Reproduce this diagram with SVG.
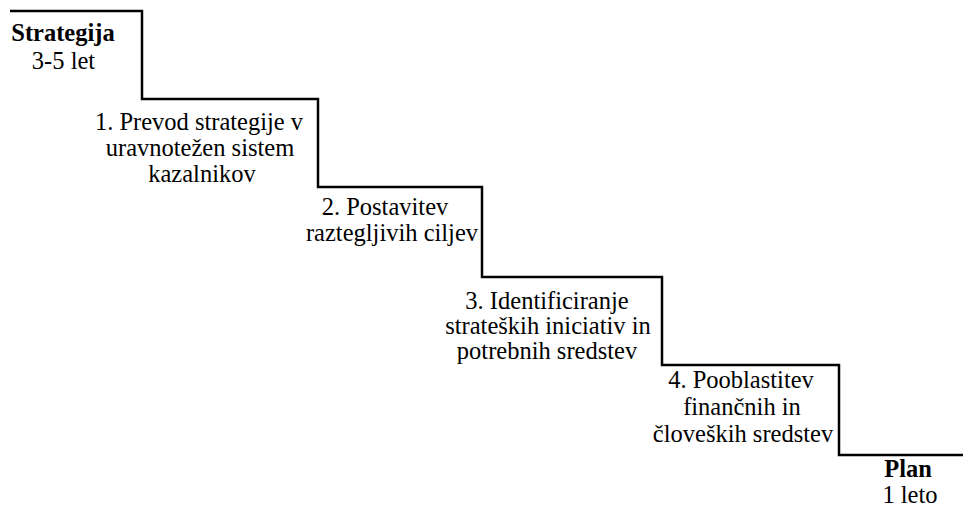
<svg xmlns="http://www.w3.org/2000/svg" width="963" height="510" viewBox="0 0 963 510">
  <style>
    .t { font-size: 24.5px; fill: #000; text-anchor: middle; }
    .b { font-weight: bold; }
    .stair { fill: none; stroke: #000; stroke-width: 2.5; stroke-linejoin: miter; }
  </style>
  <rect width="963" height="510" fill="#fff"/>
  <g id="connectors">
    <polyline class="stair" points="10,11 142,11 142,99 318,99 318,187 482,187 482,277 662,277 662,365 839,365 839,455 963,455"/>
  </g>
  <g id="strategija">
    <text class="t b" font-family="Liberation Serif" x="63" y="41">Strategija</text>
    <text class="t" font-family="Liberation Serif" x="63.5" y="69">3-5 let</text>
  </g>
  <g id="step1">
    <text class="t" font-family="Liberation Serif" x="199" y="130">1. Prevod strategije v</text>
    <text class="t" font-family="Liberation Serif" x="200" y="156">uravnotežen sistem</text>
    <text class="t" font-family="Liberation Serif" x="202" y="182">kazalnikov</text>
  </g>
  <g id="step2">
    <text class="t" font-family="Liberation Serif" x="385" y="215">2. Postavitev</text>
    <text class="t" font-family="Liberation Serif" x="392" y="241">raztegljivih ciljev</text>
  </g>
  <g id="step3">
    <text class="t" font-family="Liberation Serif" x="547" y="309">3. Identificiranje</text>
    <text class="t" font-family="Liberation Serif" x="548" y="334">strateških iniciativ in</text>
    <text class="t" font-family="Liberation Serif" x="547" y="359">potrebnih sredstev</text>
  </g>
  <g id="step4">
    <text class="t" font-family="Liberation Serif" x="741" y="388">4. Pooblastitev</text>
    <text class="t" font-family="Liberation Serif" x="742" y="415">finančnih in</text>
    <text class="t" font-family="Liberation Serif" x="743" y="442">človeških sredstev</text>
  </g>
  <g id="plan">
    <text class="t b" font-family="Liberation Serif" x="908" y="477">Plan</text>
    <text class="t" font-family="Liberation Serif" x="910" y="503">1 leto</text>
  </g>
</svg>
